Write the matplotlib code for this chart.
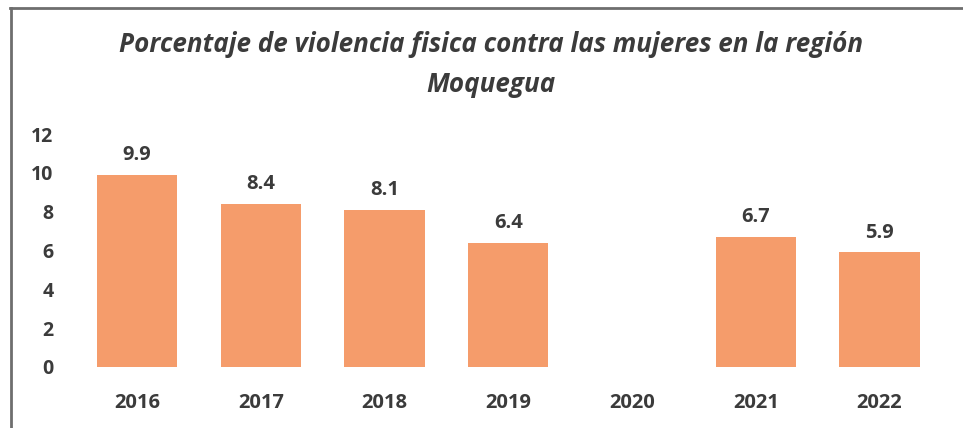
import matplotlib
matplotlib.use('Agg')
import matplotlib.pyplot as plt
from matplotlib.lines import Line2D
import numpy as np

# Data
years = ['2016', '2017', '2018', '2019', '2020', '2021', '2022']
values = [9.9, 8.4, 8.1, 6.4, np.nan, 6.7, 5.9]
y_ticks = [0, 2, 4, 6, 8, 10, 12]

bar_color = '#F59C6B'
text_color = '#3B3B3B'

plt.rcParams['font.family'] = ['Open Sans', 'DejaVu Sans']

fig = plt.figure(figsize=(9.63, 4.28), dpi=100)
W, H = 963, 428

# axes placed in pixel terms: x from 80 to 940, y from 367 (0) to 134 (12)
ax = fig.add_axes([80 / W, (H - 367) / H, (940 - 80) / W, (367 - 134) / H])
x = np.arange(len(years))
ax.bar(x, values, width=0.65, color=bar_color)

for xi, v in zip(x, values):
    if not np.isnan(v):
        ax.text(xi, v + 0.5, f'{v:.1f}', ha='center', va='bottom',
                fontsize=14.5, fontweight='bold', color=text_color)

ax.set_xlim(-0.461, 6.489)
ax.set_ylim(0, 12)
ax.set_xticks(x)
ax.set_xticklabels(years)
ax.set_yticks(y_ticks)
ax.tick_params(axis='both', length=0, labelcolor=text_color)
ax.tick_params(axis='x', pad=19, labelsize=14.5)
ax.tick_params(axis='y', pad=19, labelsize=14)
for lab in ax.get_xticklabels() + ax.get_yticklabels():
    lab.set_fontweight('bold')
for s in ax.spines.values():
    s.set_visible(False)

# title
fig.text(491 / W, 1 - 45 / H, 'Porcentaje de violencia fisica contra las mujeres en la región',
         ha='center', va='center', fontsize=18.7, fontweight='bold',
         fontstyle='italic', color=text_color)
fig.text(491 / W, 1 - 85 / H, 'Moquegua', ha='center', va='center',
         fontsize=18.7, fontweight='bold', fontstyle='italic', color=text_color)

# frame edges (top and left visible in the scan)
fig.add_artist(Line2D([10 / W, 1], [1 - 8 / H, 1 - 8 / H], color='#6E6E6E', lw=2))
fig.add_artist(Line2D([11 / W, 11 / W], [0, 1 - 8 / H], color='#6E6E6E', lw=2))

fig.savefig('out.png', dpi=100)
